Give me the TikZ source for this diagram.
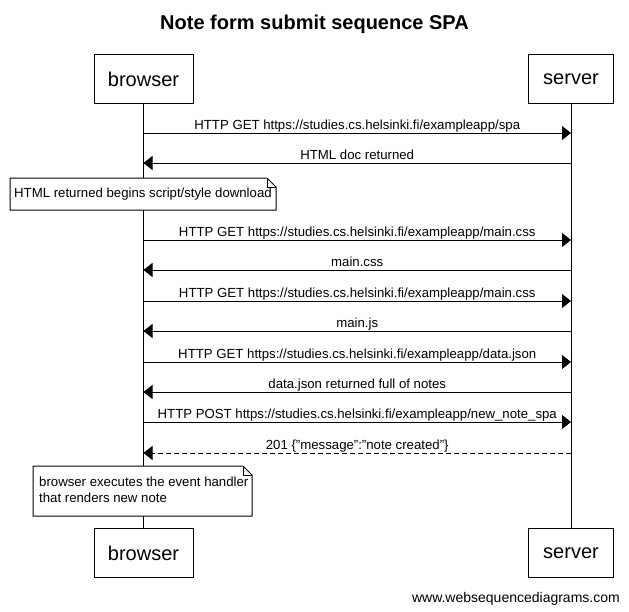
\documentclass[tikz,border=0pt]{standalone}
\usepackage{fontspec}
\setmainfont{Liberation Sans}
\usetikzlibrary{arrows.meta}
\begin{document}
\begin{tikzpicture}[x=1pt,y=-1pt,
  actor/.style={draw,line width=1pt,minimum width=99pt,minimum height=49pt,inner sep=0,font=\fontsize{20}{24}\selectfont},
  msg/.style={line width=1pt,-{Triangle[length=9pt,width=14pt]}},
  reply/.style={msg,dash pattern=on 5pt off 3pt},
  lbl/.style={font=\fontsize{13.2}{15}\selectfont,inner sep=0,anchor=base},
  mlbl/.style={lbl,midway,yshift=4pt},
  life/.style={line width=1pt},
  fold/.style={line width=0.8pt}
]
\useasboundingbox (0,0) rectangle (629,611);
% title
\node[font=\bfseries\fontsize{20}{24}\selectfont,anchor=base,inner sep=0] (title) at (314.5,29) {Note form submit sequence SPA};
% participants
\node[actor] (bt) at (143.5,79) {browser};
\node[actor,minimum width=85pt] (st) at (571,79) {server};
\node[actor] (bb) at (143.5,553) {browser};
\node[actor,minimum width=85pt] (sb) at (571,553) {server};
% lifelines
\draw[life] (bt.south) -- (bb.north);
\draw[life] (st.south) -- (sb.north);
% coordinates on lifelines
\foreach \n/\y in {1/133,2/163,4/240,5/270,6/301,7/331,8/362,9/392,10/422,11/453}{
  \coordinate (b\n) at (143.5,\y);
  \coordinate (s\n) at (571,\y);
}
% messages
\draw[msg] (b1) -- (s1) node[mlbl] (l1) {HTTP GET https://studies.cs.helsinki.fi/exampleapp/spa};
\draw[msg] (s2) -- (b2) node[mlbl] (l2) {HTML doc returned};
\draw[msg] (b4) -- (s4) node[mlbl] (l4) {HTTP GET https://studies.cs.helsinki.fi/exampleapp/main.css};
\draw[msg] (s5) -- (b5) node[mlbl] (l5) {main.css};
\draw[msg] (b6) -- (s6) node[mlbl] (l6) {HTTP GET https://studies.cs.helsinki.fi/exampleapp/main.css};
\draw[msg] (s7) -- (b7) node[mlbl] (l7) {main.js};
\draw[msg] (b8) -- (s8) node[mlbl] (l8) {HTTP GET https://studies.cs.helsinki.fi/exampleapp/data.json};
\draw[msg] (s9) -- (b9) node[mlbl] (l9) {data.json returned full of notes};
\draw[msg] (b10) -- (s10) node[mlbl] (l10) {HTTP POST https://studies.cs.helsinki.fi/exampleapp/new\_note\_spa};
\draw[reply] (s11) -- (b11) node[mlbl] (l11) {201 \{"message":"note created"\}};
% note 1
\fill[white] (10,178) rectangle (276,210);
\draw[life] (10,178) -- (267,178) -- (276,187) -- (276,210) -- (10,210) -- cycle;
\draw[fold] (267,178) -- (267,187) -- (276,187);
\node[lbl,anchor=base west] (n1) at (14,197) {HTML returned begins script/style download};
% note 2
\fill[white] (33,466) rectangle (252,516);
\draw[life] (33,466) -- (243,466) -- (252,475) -- (252,516) -- (33,516) -- cycle;
\draw[fold] (243,466) -- (243,475) -- (252,475);
\node[lbl,anchor=base west] (n2a) at (39,486) {browser executes the event handler};
\node[lbl,anchor=base west] (n2b) at (39,502) {that renders new note};
% footer
\node[font=\fontsize{14}{16}\selectfont,anchor=base east,inner sep=0] (foot) at (620,602) {www.websequencediagrams.com};
\end{tikzpicture}
\end{document}
